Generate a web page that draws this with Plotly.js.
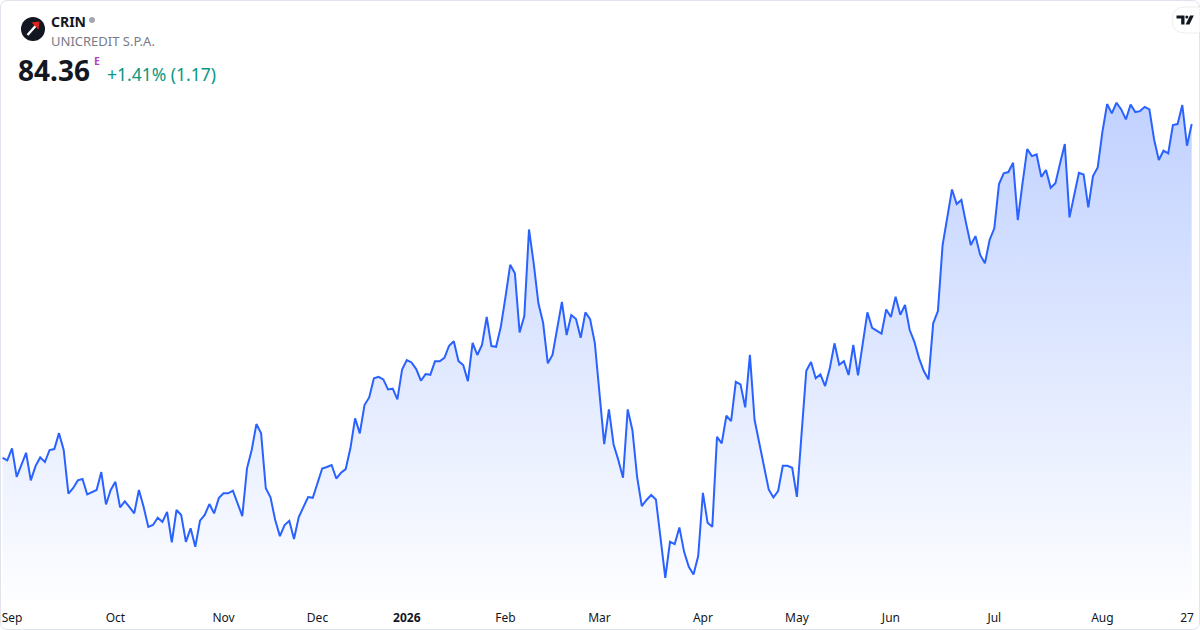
<!DOCTYPE html>
<html>
<head>
<meta charset="utf-8">
<script src="https://cdn.plot.ly/plotly-3.0.1.min.js"></script>
<style>
  html, body { margin: 0; padding: 0; background: #ffffff; }
  #chart { width: 1200px; height: 630px; }
</style>
</head>
<body>
<div id="chart"></div>
<script>
// Daily closes (trading sessions), Aug 28 2025 -> Aug 28 2026
const closes = [
  66.34, 66.20, 66.85, 65.31, 65.96, 66.61, 65.12, 65.89, 66.36, 66.11,
  66.76, 66.81, 67.67, 66.76, 64.40, 64.70, 65.12, 65.19, 64.36, 64.50,
  64.60, 65.57, 63.82, 64.60, 65.04, 63.66, 63.99, 63.68, 63.34, 64.60,
  63.69, 62.61, 62.71, 63.10, 62.88, 63.42, 61.77, 63.52, 63.25, 61.80,
  62.53, 61.53, 62.94, 63.25, 63.84, 63.34, 64.16, 64.42, 64.42, 64.56,
  63.88, 63.19, 65.77, 66.76, 68.16, 67.66, 64.69, 64.20, 62.98, 62.11,
  62.71, 62.94, 61.95, 63.12, 63.68, 64.22, 64.18, 64.97, 65.76, 65.84,
  65.95, 65.22, 65.53, 65.73, 66.85, 68.47, 67.66, 69.19, 69.60, 70.63,
  70.71, 70.57, 70.03, 70.07, 69.49, 71.11, 71.62, 71.49, 71.13, 70.50,
  70.86, 70.82, 71.55, 71.55, 71.74, 72.39, 72.63, 71.56, 71.35, 70.48,
  72.55, 71.89, 72.43, 73.95, 72.37, 72.33, 73.41, 75.03, 76.76, 76.30,
  73.11, 73.99, 78.67, 76.84, 74.68, 73.63, 71.44, 71.89, 73.24, 74.76,
  72.97, 74.05, 73.83, 72.82, 74.19, 73.83, 72.55, 70.00, 67.08, 68.95,
  67.06, 66.22, 65.26, 68.95, 67.84, 65.31, 63.73, 64.06, 64.33, 64.09,
  62.07, 59.86, 61.80, 61.68, 62.58, 61.26, 60.45, 60.04, 61.03, 64.45,
  62.83, 62.61, 67.47, 67.12, 68.61, 68.32, 70.44, 70.30, 69.06, 71.90,
  68.38, 67.12, 65.85, 64.63, 64.20, 64.54, 65.91, 65.91, 65.80, 64.23,
  67.66, 71.04, 71.51, 70.63, 70.84, 70.21, 71.17, 72.52, 71.36, 71.56,
  70.81, 72.43, 70.79, 72.52, 74.19, 73.36, 73.20, 73.04, 74.35, 73.94,
  75.03, 74.06, 74.59, 73.24, 72.60, 71.71, 71.02, 70.57, 73.60, 74.26,
  77.83, 79.35, 80.83, 80.04, 80.26, 79.00, 77.83, 78.31, 77.29, 76.84,
  78.10, 78.73, 81.12, 81.70, 81.77, 82.27, 79.18, 81.16, 83.01, 82.63,
  82.72, 81.51, 81.88, 80.92, 81.16, 82.24, 83.28, 79.32, 80.53, 81.73,
  81.64, 79.86, 81.55, 82.02, 83.94, 85.44, 84.94, 85.51, 85.15, 84.61,
  85.42, 85.01, 85.06, 85.29, 85.15, 83.53, 82.42, 82.92, 82.78, 84.31,
  84.36, 85.39, 83.19, 84.36
];

// Session index of first session of each month (tick positions) and labels
const tickIndex  = [2, 24, 47, 67, 86, 107, 127, 149, 169, 189, 211, 234, 252];
const tickLabels = ['Sep', 'Oct', 'Nov', 'Dec', '<b>2026</b>', 'Feb', 'Mar', 'Apr', 'May', 'Jun', 'Jul', 'Aug', '27'];

const ticker = 'CRIN';
const company = 'UNICREDIT S.P.A.';
const lastPrice = '84.36';
const changeText = '+1.41% (1.17)';

// ---- layout geometry (pixels) ----
const W = 1200, H = 630;
const L = 1, R = 2, T = 0, B = 30;
const PW = W - L - R, PH = H - T - B;
const px = x => (x - L) / PW;          // pixel -> paper x
const py = y => (H - B - y) / PH;      // pixel -> paper y

const yMin = 58.66, yMax = 91.06;
const sessions = closes.map((_, i) => i);

const trace = {
  x: sessions,
  y: closes,
  type: 'scatter',
  mode: 'lines',
  line: { color: '#2962FF', width: 2, shape: 'linear' },
  fill: 'tozeroy',
  fillgradient: {
    type: 'vertical',
    start: yMin,
    stop: 85.6,
    colorscale: [[0, 'rgba(41,98,255,0.01)'], [1, 'rgba(41,98,255,0.29)']]
  },
  hoverinfo: 'skip'
};

const font = '"Noto Sans", "Open Sans", Roboto, sans-serif';

const layout = {
  width: W, height: H,
  margin: { l: L, r: R, t: T, b: B, pad: 0 },
  paper_bgcolor: '#ffffff',
  plot_bgcolor: '#ffffff',
  showlegend: false,
  font: { family: font, color: '#131722' },
  xaxis: {
    range: [-0.34, 254.34],
    tickmode: 'array',
    tickvals: tickIndex,
    ticktext: tickLabels,
    showgrid: false, zeroline: false, showline: false,
    ticks: '', ticklabelstandoff: 9,
    tickfont: { family: font, size: 12, color: '#131722' },
    fixedrange: true
  },
  yaxis: {
    range: [yMin, yMax],
    visible: false, showgrid: false, zeroline: false,
    fixedrange: true
  },
  shapes: [
    // outer card border
    { type: 'path', xref: 'paper', yref: 'paper',
      path: `M ${px(7)} ${py(0.5)} L ${px(1192)} ${py(0.5)} Q ${px(1199.5)} ${py(0.5)} ${px(1199.5)} ${py(8)} L ${px(1199.5)} ${py(622)} Q ${px(1199.5)} ${py(629.5)} ${px(1192)} ${py(629.5)} L ${px(7)} ${py(629.5)} Q ${px(0.5)} ${py(629.5)} ${px(0.5)} ${py(622)} L ${px(0.5)} ${py(8)} Q ${px(0.5)} ${py(0.5)} ${px(7)} ${py(0.5)} Z`,
      line: { color: '#e0e3eb', width: 1 }, fillcolor: 'rgba(0,0,0,0)', layer: 'above' },
    // company logo circle
    { type: 'circle', xref: 'paper', yref: 'paper',
      x0: px(21), x1: px(45), y0: py(41), y1: py(17),
      fillcolor: '#131722', line: { width: 0 } },
    // logo mark: white stroke
    { type: 'path', xref: 'paper', yref: 'paper',
      path: `M ${px(27.5)} ${py(35)} L ${px(36)} ${py(25.5)}`,
      line: { color: '#ffffff', width: 2.4 } },
    // logo mark: red arrow head
    { type: 'path', xref: 'paper', yref: 'paper',
      path: `M ${px(31.5)} ${py(22.5)} L ${px(39.5)} ${py(21.5)} L ${px(38.5)} ${py(29.5)} Z`,
      fillcolor: '#e2231a', line: { width: 0 } },
    // status dot next to ticker
    { type: 'circle', xref: 'paper', yref: 'paper',
      x0: px(89), x1: px(95), y0: py(23), y1: py(17),
      fillcolor: '#a3a6af', line: { width: 0 } },
    // TradingView badge
    { type: 'path', xref: 'paper', yref: 'paper',
      path: `M ${px(1185)} ${py(7)} L ${px(1200)} ${py(7)} L ${px(1200)} ${py(33)} L ${px(1185)} ${py(33)} Q ${px(1172)} ${py(33)} ${px(1172)} ${py(20)} Q ${px(1172)} ${py(7)} ${px(1185)} ${py(7)} Z`,
      fillcolor: '#ffffff', line: { color: 'rgba(0,0,0,0.07)', width: 1 }, layer: 'above' },
    // TV glyph: T
    { type: 'path', xref: 'paper', yref: 'paper',
      path: `M ${px(1176.5)} ${py(15.5)} L ${px(1184.5)} ${py(15.5)} L ${px(1184.5)} ${py(24.5)} L ${px(1181.2)} ${py(24.5)} L ${px(1181.2)} ${py(18.6)} L ${px(1176.5)} ${py(18.6)} Z`,
      fillcolor: '#131722', line: { width: 0 }, layer: 'above' },
    // TV glyph: dot
    { type: 'circle', xref: 'paper', yref: 'paper',
      x0: px(1185.3), x1: px(1188.3), y0: py(18.6), y1: py(15.6),
      fillcolor: '#131722', line: { width: 0 }, layer: 'above' },
    // TV glyph: slash
    { type: 'path', xref: 'paper', yref: 'paper',
      path: `M ${px(1190)} ${py(15.5)} L ${px(1193.8)} ${py(15.5)} L ${px(1189.5)} ${py(24.5)} L ${px(1185.6)} ${py(24.5)} Z`,
      fillcolor: '#131722', line: { width: 0 }, layer: 'above' }
  ],
  annotations: [
    { xref: 'paper', yref: 'paper', x: px(49), y: py(21), xanchor: 'left', yanchor: 'middle',
      text: `<b>${ticker}</b>`, showarrow: false, font: { family: font, size: 14, color: '#131722' } },
    { xref: 'paper', yref: 'paper', x: px(49), y: py(40.5), xanchor: 'left', yanchor: 'middle',
      text: company, showarrow: false, font: { family: font, size: 13, color: '#787b86' } },
    { xref: 'paper', yref: 'paper', x: px(16), y: py(70), xanchor: 'left', yanchor: 'middle',
      text: `<b>${lastPrice}</b>`, showarrow: false, font: { family: font, size: 28, color: '#131722' } },
    { xref: 'paper', yref: 'paper', x: px(91.5), y: py(61), xanchor: 'left', yanchor: 'middle',
      text: '<b>E</b>', showarrow: false, font: { family: font, size: 10.5, color: '#ab47bc' } },
    { xref: 'paper', yref: 'paper', x: px(105), y: py(74), xanchor: 'left', yanchor: 'middle',
      text: changeText, showarrow: false, font: { family: font, size: 17.5, color: '#089981' } }
  ]
};

Plotly.newPlot('chart', [trace], layout, { displayModeBar: false, staticPlot: true });
</script>
</body>
</html>
